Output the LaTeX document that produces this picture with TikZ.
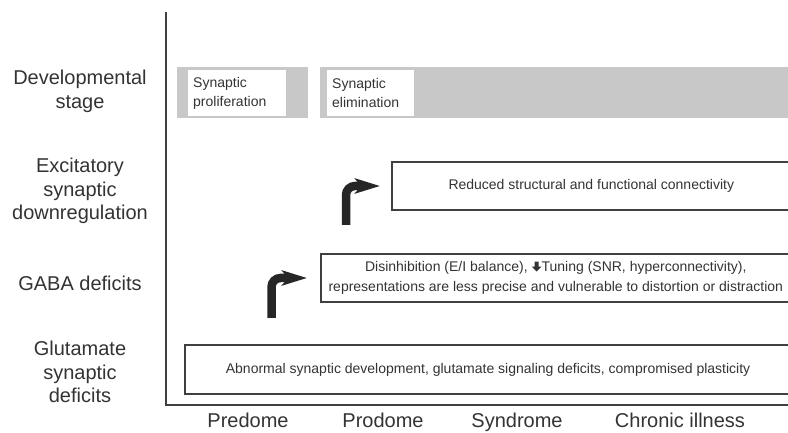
\documentclass[tikz,border=0pt]{standalone}
\usepackage{fontspec}
\setmainfont{Liberation Sans}
\usetikzlibrary{arrows.meta}
\definecolor{textgray}{HTML}{333333}
\definecolor{linegray}{HTML}{404040}
\definecolor{bandgray}{HTML}{C8C8C8}
\definecolor{arrowblack}{HTML}{262626}
\newcommand{\thickdown}{\tikz[baseline=0pt,x=1pt,y=1pt]\fill (3,10) -- (7,10) -- (7,5) -- (10,5) -- (5,0) -- (0,5) -- (3,5) -- cycle;}

\begin{document}
\begin{tikzpicture}[x=1pt, y=1pt,
  rowlabel/.style={align=center, font=\fontsize{20}{23.5}\selectfont, text=textgray},
  phaselabel/.style={anchor=base, font=\fontsize{20}{24}\selectfont, text=textgray},
  effectbox/.style={draw=linegray, line width=1.6pt, anchor=west, minimum height=48pt, align=center, inner sep=2pt, font=\fontsize{14}{20}\selectfont, text=textgray},
  stagebox/.style={fill=white, anchor=north west, minimum height=46pt, text width=88pt, align=left, inner sep=5pt, font=\fontsize{14}{19}\selectfont, text=textgray},
  bentarrow/.style={draw=arrowblack, line width=8.5pt, rounded corners=9pt, -{Stealth[length=25pt, width=15pt, inset=6pt]}}]
\useasboundingbox (0,0) rectangle (788,433);
\clip (0,0) rectangle (788,433);
%
\draw [linegray, line width=2.6pt] (166,421) -- (166,28) -- (792,28);
%
\fill [bandgray] (177,315) rectangle (308,366);
\fill [bandgray] (320,315) rectangle (792,366);
\node [stagebox] (prolif) at (188,363) {Synaptic\\proliferation};
\node [stagebox, text width=77pt] (elim) at (327,363) {Synaptic\\elimination};
%
\node [effectbox, minimum width=399pt] (reduced) at (391,247) {Reduced structural and functional connectivity};
\node [effectbox, minimum width=470pt] (gaba) at (320,155) {Disinhibition (E/I balance), \thickdown Tuning (SNR, hyperconnectivity),\\representations are less precise and vulnerable to distortion or distraction};
\node [effectbox, minimum width=606pt, minimum height=49pt, line width=2.2pt] (glut) at (184,63.5) {Abnormal synaptic development, glutamate signaling deficits, compromised plasticity};
%
\coordinate (stem1) at (346,208);
\coordinate (stem2) at (271.5,115);
\draw [bentarrow] (stem1) |- ([xshift=-11pt]reduced.west);
\draw [bentarrow] (stem2) |- ([xshift=-13pt]gaba.west);
%
\node [rowlabel] (stage) at (80,341.5) {Developmental\\stage};
\node [rowlabel] (excit) at (80,242) {Excitatory\\synaptic\\downregulation};
\node [rowlabel] (gabalabel) at (80,150) {GABA deficits};
\node [rowlabel] (glutlabel) at (80,61) {Glutamate\\synaptic\\deficits};
%
\node [phaselabel] (predome) at (248,5.5) {Predome};
\node [phaselabel] (prodome) at (383,5.5) {Prodome};
\node [phaselabel] (syndrome) at (517,5.5) {Syndrome};
\node [phaselabel] (chronic) at (680,5.5) {Chronic illness};
%
\end{tikzpicture}
\end{document}
